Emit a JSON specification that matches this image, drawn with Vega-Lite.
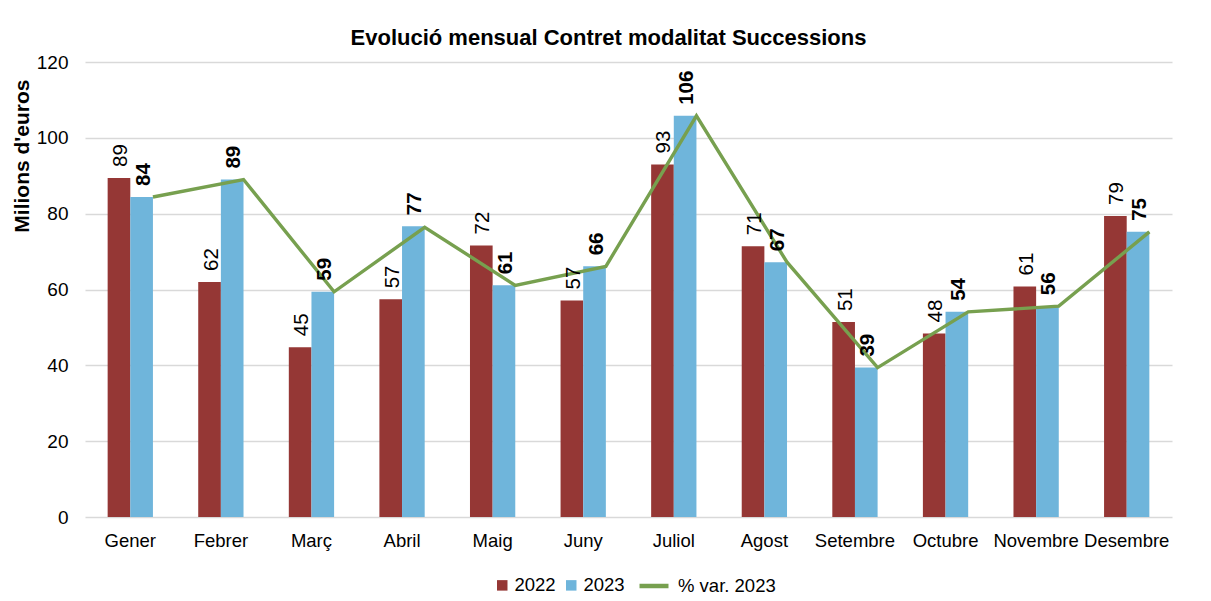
{
  "$schema": "https://vega.github.io/schema/vega-lite/v6.json",
  "autosize": {"type": "none"},
  "width": 1087,
  "height": 455,
  "padding": {"left": 85, "top": 62, "right": 39, "bottom": 84},
  "background": "white",
  "config": {
    "font": "Liberation Sans",
    "view": {"stroke": null}
  },
  "title": {
    "text": "Evolució mensual Contret modalitat Successions",
    "font": "Liberation Sans",
    "fontSize": 22,
    "fontWeight": "bold",
    "color": "#000000",
    "anchor": "middle",
    "dx": -20,
    "offset": 3
  },
  "datasets": {
    "bars": [
      {"month": "Gener", "series": "2022", "value": 89.4},
      {"month": "Gener", "series": "2023", "value": 84.4},
      {"month": "Febrer", "series": "2022", "value": 62.0},
      {"month": "Febrer", "series": "2023", "value": 89.0},
      {"month": "Març", "series": "2022", "value": 44.8},
      {"month": "Març", "series": "2023", "value": 59.4},
      {"month": "Abril", "series": "2022", "value": 57.4},
      {"month": "Abril", "series": "2023", "value": 76.7},
      {"month": "Maig", "series": "2022", "value": 71.6},
      {"month": "Maig", "series": "2023", "value": 61.1},
      {"month": "Juny", "series": "2022", "value": 57.1},
      {"month": "Juny", "series": "2023", "value": 66.1},
      {"month": "Juliol", "series": "2022", "value": 93.0},
      {"month": "Juliol", "series": "2023", "value": 105.8},
      {"month": "Agost", "series": "2022", "value": 71.4},
      {"month": "Agost", "series": "2023", "value": 67.2},
      {"month": "Setembre", "series": "2022", "value": 51.4},
      {"month": "Setembre", "series": "2023", "value": 39.4},
      {"month": "Octubre", "series": "2022", "value": 48.4},
      {"month": "Octubre", "series": "2023", "value": 54.1},
      {"month": "Novembre", "series": "2022", "value": 60.8},
      {"month": "Novembre", "series": "2023", "value": 55.6},
      {"month": "Desembre", "series": "2022", "value": 79.4},
      {"month": "Desembre", "series": "2023", "value": 75.2}
    ],
    "line": [
      {"month": "Gener", "series": "% var. 2023", "value": 84.4},
      {"month": "Febrer", "series": "% var. 2023", "value": 89.0},
      {"month": "Març", "series": "% var. 2023", "value": 59.4},
      {"month": "Abril", "series": "% var. 2023", "value": 76.4},
      {"month": "Maig", "series": "% var. 2023", "value": 61.1},
      {"month": "Juny", "series": "% var. 2023", "value": 66.1},
      {"month": "Juliol", "series": "% var. 2023", "value": 105.8},
      {"month": "Agost", "series": "% var. 2023", "value": 67.2},
      {"month": "Setembre", "series": "% var. 2023", "value": 39.4},
      {"month": "Octubre", "series": "% var. 2023", "value": 54.1},
      {"month": "Novembre", "series": "% var. 2023", "value": 55.6},
      {"month": "Desembre", "series": "% var. 2023", "value": 75.2}
    ]
  },
  "encoding": {
    "x": {
      "field": "month",
      "type": "nominal",
      "sort": ["Gener", "Febrer", "Març", "Abril", "Maig", "Juny", "Juliol", "Agost", "Setembre", "Octubre", "Novembre", "Desembre"],
      "scale": {"paddingInner": 0.5, "paddingOuter": 0.25},
      "axis": {
        "title": null,
        "labelAngle": 0,
        "labelFont": "Liberation Sans",
        "labelFontSize": 18.5,
        "labelColor": "#000000",
        "labelPadding": 14,
        "ticks": false,
        "domain": false
      }
    },
    "y": {
      "field": "value",
      "type": "quantitative",
      "scale": {"domain": [0, 120], "nice": false},
      "axis": {
        "values": [0, 20, 40, 60, 80, 100, 120],
        "title": "Milions d'euros",
        "titleFont": "Liberation Sans",
        "titleFontSize": 21,
        "titleFontWeight": "bold",
        "titleColor": "#000000",
        "titleAngle": 270,
        "titleAlign": "right",
        "titleBaseline": "alphabetic",
        "titleX": -57,
        "titleY": 17,
        "labelFont": "Liberation Sans",
        "labelFontSize": 19,
        "labelColor": "#000000",
        "labelPadding": 17,
        "ticks": false,
        "domain": false,
        "grid": true,
        "gridColor": "#D9D9D9",
        "gridWidth": 1.3
      }
    }
  },
  "layer": [
    {
      "data": {"name": "bars"},
      "mark": {"type": "bar"},
      "encoding": {
        "xOffset": {"field": "series", "type": "nominal", "scale": {"paddingInner": 0, "paddingOuter": 0}},
        "fill": {
          "field": "series",
          "type": "nominal",
          "scale": {"domain": ["2022", "2023"], "range": ["#953735", "#6FB5DB"]},
          "legend": {
            "title": null,
            "orient": "none",
            "direction": "horizontal",
            "legendX": 408,
            "legendY": 514,
            "symbolType": "square",
            "symbolSize": 110,
            "symbolStrokeWidth": 0,
            "labelFont": "Liberation Sans",
            "labelFontSize": 18.5,
            "labelColor": "#000000",
            "labelOffset": 3,
            "columnPadding": 6,
            "padding": 0
          }
        }
      }
    },
    {
      "data": {"name": "line"},
      "mark": {"type": "line", "strokeWidth": 3.4},
      "encoding": {
        "x": {
          "field": "month",
          "type": "nominal",
          "bandPosition": 1,
          "sort": ["Gener", "Febrer", "Març", "Abril", "Maig", "Juny", "Juliol", "Agost", "Setembre", "Octubre", "Novembre", "Desembre"]
        },
        "stroke": {
          "field": "series",
          "type": "nominal",
          "scale": {"domain": ["% var. 2023"], "range": ["#77A04F"]},
          "legend": {
            "title": null,
            "orient": "none",
            "legendX": 552,
            "legendY": 507,
            "symbolType": "stroke",
            "symbolSize": 840,
            "symbolStrokeWidth": 4.5,
            "labelFont": "Liberation Sans",
            "labelFontSize": 18.5,
            "labelColor": "#000000",
            "labelOffset": 7,
            "padding": 0
          }
        }
      }
    },
    {
      "data": {"name": "bars"},
      "transform": [{"filter": "datum.series == '2022'"}],
      "mark": {
        "type": "text",
        "angle": 270,
        "align": "left",
        "baseline": "alphabetic",
        "dx": 11,
        "dy": 8,
        "font": "Liberation Sans",
        "fontSize": 20.5,
        "fontWeight": "normal",
        "color": "#000000"
      },
      "encoding": {
        "xOffset": {"field": "series", "type": "nominal", "scale": {"domain": ["2022", "2023"]}},
        "text": {"field": "value", "type": "quantitative", "format": ".0f"}
      }
    },
    {
      "data": {"name": "bars"},
      "transform": [{"filter": "datum.series == '2023'"}],
      "mark": {
        "type": "text",
        "angle": 270,
        "align": "left",
        "baseline": "alphabetic",
        "dx": 11,
        "dy": 8,
        "font": "Liberation Sans",
        "fontSize": 20.5,
        "fontWeight": "bold",
        "color": "#000000"
      },
      "encoding": {
        "xOffset": {"field": "series", "type": "nominal", "scale": {"domain": ["2022", "2023"]}},
        "text": {"field": "value", "type": "quantitative", "format": ".0f"}
      }
    }
  ]
}
